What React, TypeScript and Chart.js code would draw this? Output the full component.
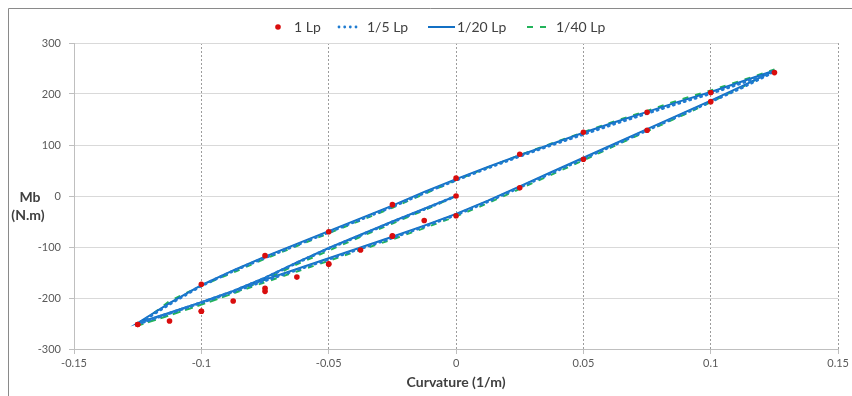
import React, { useEffect, useRef } from "react";
import { Chart, registerables } from "chart.js";

Chart.register(...registerables);

// ---------- data ----------
const seriesNames = ["1 Lp", "1/5 Lp", "1/20 Lp", "1/40 Lp"];

const xTicks = [-0.15, -0.1, -0.05, 0, 0.05, 0.1, 0.15];
const xTickLabels = ["-0.15", "-0.1", "-0.05", "0", "0.05", "0.1", "0.15"];
const yTicks = [-300, -200, -100, 0, 100, 200, 300];
const yTickLabels = ["-300", "-200", "-100", "0", "100", "200", "300"];

// 1 Lp (points): initial loading, then up branch, then down branch
const lp1X = [
  0, -0.0125, -0.025, -0.0375, -0.05, -0.0625, -0.075, -0.0875, -0.1, -0.1125, -0.125,
  -0.1, -0.075, -0.05, -0.025, 0, 0.025, 0.05, 0.075, 0.1, 0.125,
  0.1, 0.075, 0.05, 0.025, 0, -0.025, -0.05, -0.075, -0.1, -0.125,
];
const lp1Y = [
  0, -48, -78, -106, -133, -159, -181, -206, -226, -245, -252,
  -173, -117, -70, -17, 35, 82, 125, 164, 203, 242,
  185, 129, 72, 16, -38.6, -79, -134, -187, -226, -252,
];

// curvature path shared by the three simulated series
const pathX = [
  0, -0.0125, -0.025, -0.0375, -0.05, -0.0625, -0.075, -0.0875, -0.1, -0.1125, -0.125,
  -0.1125, -0.1, -0.0875, -0.075, -0.0625, -0.05, -0.0375, -0.025, -0.0125, 0,
  0.0125, 0.025, 0.0375, 0.05, 0.0625, 0.075, 0.0875, 0.1, 0.1125, 0.125,
  0.1125, 0.1, 0.0875, 0.075, 0.0625, 0.05, 0.0375, 0.025, 0.0125, 0,
  -0.0125, -0.025, -0.0375, -0.05, -0.0625, -0.075, -0.0875, -0.1, -0.1125, -0.125,
];
const lp5Y = [
  0, -26, -51, -77, -103, -131, -161, -187, -209, -230, -251,
  -212, -176, -147, -121, -96, -71, -46, -21, 6, 31,
  55, 78, 100, 121, 142, 162, 182, 201, 222, 244,
  213, 185, 157, 129, 101, 73, 45, 17, -11, -37,
  -60, -82, -103, -124, -145, -166, -188, -209, -230, -251,
];
const lp20Y = [
  0, -25, -50, -76, -102, -130, -160, -186, -208, -229, -249,
  -210, -175, -146, -119, -94, -69, -44, -19, 8, 33,
  57, 80, 102, 124, 145, 165, 185, 204, 225, 246,
  216, 187, 159, 131, 103, 75, 47, 19, -9, -35,
  -58, -80, -101, -122, -143, -164, -186, -208, -229, -249,
];
const lp40Y = [
  0, -28, -54, -80, -107, -134, -164, -191, -213, -234, -254,
  -206, -176, -150, -123, -98, -73, -48, -23, 4, 31,
  56, 80, 103, 125, 147, 167, 188, 207, 227, 248,
  214, 184, 155, 127, 99, 70, 42, 14, -14, -40,
  -63, -85, -106, -127, -148, -169, -191, -213, -234, -254,
];

// ---------- styles ----------
const RED = "#d90d0d";
const BLUE = "#1370c4";
const BLUE_DOT = "#1f7bd0";
const GREEN = "#22b35a";
const TEXT = "#404040";
const TICK_TEXT = "#595959";
const FONT = "Lato, 'Open Sans', sans-serif";

const toPts = (xs: number[], ys: number[]) => xs.map((x, i) => ({ x, y: ys[i] }));

const framePlugin = {
  id: "frame",
  beforeDraw(chart: any) {
    const ctx = chart.ctx as CanvasRenderingContext2D;
    ctx.save();
    ctx.fillStyle = "#ffffff";
    ctx.fillRect(0, 0, chart.width, chart.height);
    ctx.strokeStyle = "#8a8a8a";
    ctx.lineWidth = 1;
    ctx.beginPath();
    ctx.moveTo(8.5, chart.height);
    ctx.lineTo(8.5, 8.5);
    ctx.lineTo(chart.width, 8.5);
    ctx.stroke();
    ctx.restore();
  },
};

const annotPlugin = {
  id: "annot",
  afterDraw(chart: any) {
    const ctx = chart.ctx as CanvasRenderingContext2D;
    ctx.save();
    // y axis title (horizontal)
    ctx.fillStyle = TEXT;
    ctx.font = `bold 14px ${FONT}`;
    ctx.textAlign = "center";
    ctx.textBaseline = "middle";
    ctx.fillText("Mb", 30, 197);
    ctx.fillText("(N.m)", 28, 215);

    // legend
    const y = 27;
    ctx.font = `14px ${FONT}`;
    ctx.textAlign = "left";
    // 1 Lp
    ctx.fillStyle = RED;
    ctx.beginPath();
    ctx.arc(278, y, 2.8, 0, Math.PI * 2);
    ctx.fill();
    ctx.fillStyle = TEXT;
    ctx.fillText(seriesNames[0], 294, y);
    // 1/5 Lp dotted
    ctx.fillStyle = BLUE_DOT;
    [339, 344.7, 350.3, 356].forEach((cx) => {
      ctx.beginPath();
      ctx.arc(cx, y, 1.4, 0, Math.PI * 2);
      ctx.fill();
    });
    ctx.fillStyle = TEXT;
    ctx.fillText(seriesNames[1], 367, y);
    // 1/20 Lp solid
    ctx.strokeStyle = BLUE;
    ctx.lineWidth = 2;
    ctx.beginPath();
    ctx.moveTo(428, y);
    ctx.lineTo(455, y);
    ctx.stroke();
    ctx.fillText(seriesNames[2], 457, y);
    // 1/40 Lp dashed
    ctx.strokeStyle = GREEN;
    ctx.setLineDash([6, 7]);
    ctx.beginPath();
    ctx.moveTo(527, y);
    ctx.lineTo(547, y);
    ctx.stroke();
    ctx.setLineDash([]);
    ctx.fillText(seriesNames[3], 556, y);
    ctx.restore();
  },
};

export default function App() {
  const ref = useRef<HTMLCanvasElement>(null);

  useEffect(() => {
    document.body.style.margin = "0";
    const canvas = ref.current;
    if (!canvas) return;
    const chart = new Chart(canvas, {
      type: "scatter",
      data: {
        datasets: [
          {
            label: seriesNames[0],
            data: toPts(lp1X, lp1Y),
            showLine: false,
            pointRadius: 2.8,
            pointBackgroundColor: RED,
            pointBorderWidth: 0,
          },
          {
            label: seriesNames[1],
            data: toPts(pathX, lp5Y),
            showLine: true,
            borderColor: BLUE_DOT,
            borderWidth: 3,
            borderDash: [1, 4.7],
            borderCapStyle: "round",
            pointRadius: 0,
            tension: 0,
          },
          {
            label: seriesNames[2],
            data: toPts(pathX, lp20Y),
            showLine: true,
            borderColor: BLUE,
            borderWidth: 2,
            pointRadius: 0,
            tension: 0,
          },
          {
            label: seriesNames[3],
            data: toPts(pathX, lp40Y),
            showLine: true,
            borderColor: GREEN,
            borderWidth: 2,
            borderDash: [6, 7],
            pointRadius: 0,
            tension: 0,
          },
        ],
      } as any,
      options: {
        responsive: false,
        animation: false,
        layout: { padding: { left: 0, right: 13, top: 43, bottom: 0 } },
        plugins: {
          legend: { display: false },
          tooltip: { enabled: false },
        },
        scales: {
          x: {
            type: "linear",
            min: -0.15,
            max: 0.15,
            afterBuildTicks: (s: any) => {
              s.ticks = xTicks.map((v) => ({ value: v }));
            },
            afterFit: (s: any) => {
              s.height = 47;
            },
            grid: {
              color: (c: any) => (c.index === 0 ? "rgba(0,0,0,0)" : "#9c9c9c"),
              tickColor: "#bfbfbf",
              tickLength: 5,
            },
            border: { display: true, color: "#bfbfbf", dash: [2, 2] },
            ticks: {
              padding: 3,
              color: TICK_TEXT,
              font: { family: FONT, size: 11 },
              maxRotation: 0,
              callback: (_v: any, i: number) => xTickLabels[i],
            },
            title: {
              display: true,
              text: "Curvature (1/m)",
              color: TEXT,
              font: { family: FONT, size: 14, weight: "bold" },
              padding: { top: 0, bottom: 5 },
            },
          },
          y: {
            type: "linear",
            min: -300,
            max: 300,
            afterBuildTicks: (s: any) => {
              s.ticks = yTicks.map((v) => ({ value: v }));
            },
            afterFit: (s: any) => {
              s.width = 74;
            },
            grid: { color: "#d9d9d9", tickColor: "#bfbfbf", tickLength: 5 },
            border: { display: true, color: "#bfbfbf" },
            ticks: {
              padding: 8,
              color: TICK_TEXT,
              font: { family: FONT, size: 11 },
              callback: (_v: any, i: number) => yTickLabels[i],
            },
          },
        },
      } as any,
      plugins: [framePlugin, annotPlugin],
    });
    return () => chart.destroy();
  }, []);

  return (
    <div style={{ position: "fixed", left: 0, top: 0, width: 852, height: 396 }}>
      <canvas ref={ref} width={852} height={396} style={{ display: "block" }} />
    </div>
  );
}
